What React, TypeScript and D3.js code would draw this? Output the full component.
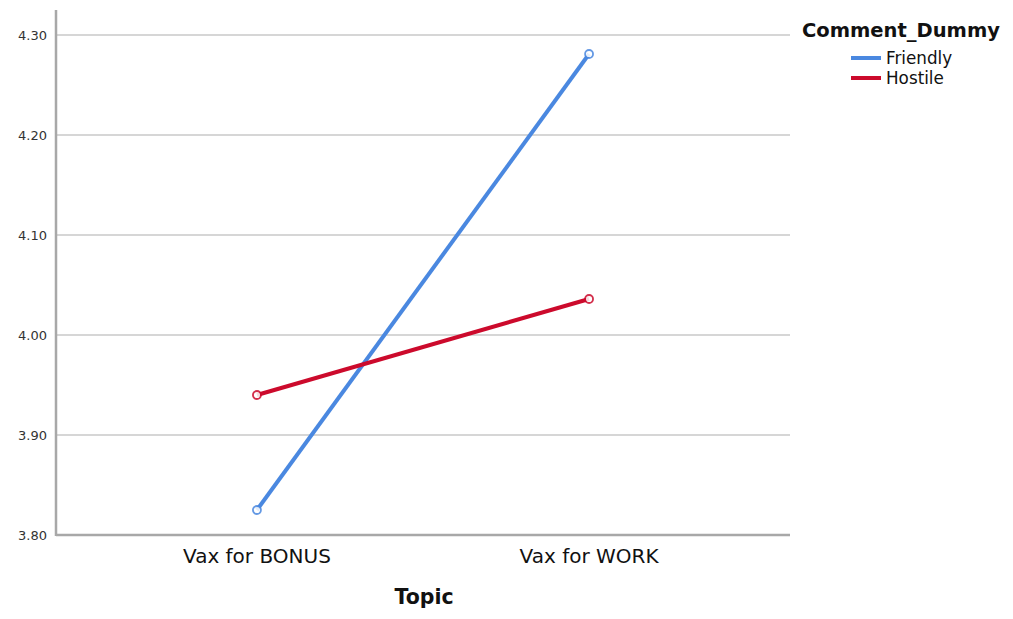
import * as d3 from 'd3'

const topics = ['Vax for BONUS', 'Vax for WORK']
const groups = ['Friendly', 'Hostile']
const friendlyMeans = [3.825, 4.281]
const hostileMeans = [3.94, 4.036]
const yTicks = [3.8, 3.9, 4.0, 4.1, 4.2, 4.3]
const colors = ['#4a88e0', '#cc0a2c']

const width = 1013
const height = 619
const marginLeft = 56
const plotRight = 790
const marginTop = 10
const plotBottom = 535

const App = () => {
	const x = d3.scalePoint().domain(topics).range([marginLeft, plotRight]).padding(0.605)
	const y = d3.scaleLinear().domain([3.8, 4.3]).range([plotBottom, 35])

	const line = d3
		.line<number>()
		.x((_, i) => x(topics[i]) as number)
		.y((d) => y(d))

	const series = [friendlyMeans, hostileMeans]
	const font = '"DejaVu Sans", Verdana, sans-serif'

	return (
		<svg
			width={width}
			height={height}
			style={{ position: 'absolute', left: 0, top: 0, background: '#fff' }}
			fontFamily={font}
		>
			{/* gridlines */}
			{yTicks.slice(1).map((t) => (
				<line key={t} x1={marginLeft} x2={plotRight} y1={y(t)} y2={y(t)} stroke="#c8c8c8" strokeWidth={1.5} />
			))}
			{/* y tick labels */}
			{yTicks.map((t) => (
				<text key={t} x={47} y={y(t)} dy="0.35em" textAnchor="end" fontSize={13} fill="#333">
					{t.toFixed(2)}
				</text>
			))}
			{/* axes */}
			<line x1={marginLeft} x2={marginLeft} y1={marginTop} y2={plotBottom + 1} stroke="#a8a8a8" strokeWidth={2.5} />
			<line x1={marginLeft} x2={plotRight} y1={plotBottom} y2={plotBottom} stroke="#a8a8a8" strokeWidth={2.5} />
			{/* x tick labels */}
			{topics.map((t) => (
				<text key={t} x={x(t)} y={563} textAnchor="middle" fontSize={20} fill="#111">
					{t}
				</text>
			))}
			<text x={424} y={604} textAnchor="middle" fontSize={20.5} fontWeight="bold" fill="#111">
				Topic
			</text>
			{/* lines */}
			{series.map((s, i) => (
				<g key={groups[i]}>
					<path d={line(s) ?? ''} fill="none" stroke={colors[i]} strokeWidth={4} />
					{s.map((v, j) => (
						<circle key={j} cx={x(topics[j])} cy={y(v)} r={4} fill="#fff" stroke={colors[i]} strokeWidth={1.8} opacity={0.85} />
					))}
				</g>
			))}
			{/* legend */}
			<text x={802} y={37} fontSize={19.5} fontWeight="bold" fill="#111">
				Comment_Dummy
			</text>
			{groups.map((g, i) => (
				<g key={g} transform={`translate(851, ${58 + i * 20})`}>
					<line x1={0} x2={30} y1={0} y2={0} stroke={colors[i]} strokeWidth={4} />
					<text x={35} y={0} dy="0.35em" fontSize={16.8} fill="#111">
						{g}
					</text>
				</g>
			))}
		</svg>
	)
}

export default App
